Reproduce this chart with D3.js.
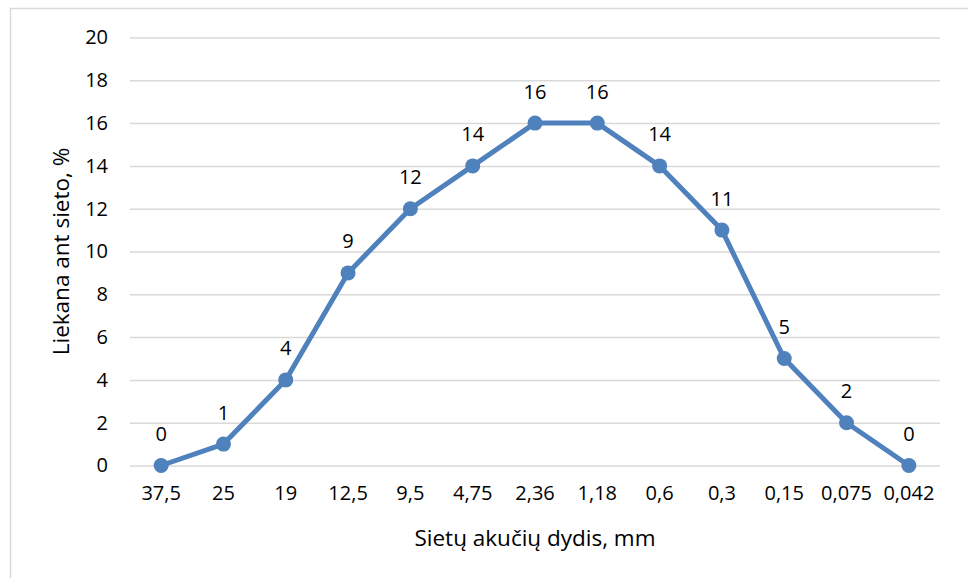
<!DOCTYPE html>
<html lang="lt">
<head>
    <meta charset="utf-8">
    <title>Sietų analizė</title>
    <script src="https://d3js.org/d3.v7.min.js"></script>
    <style>
        body, html {
            margin: 0;
            padding: 0;
            background: #fff;
        }
        svg text {
            font-family: "Open Sans", sans-serif;
            fill: #000;
        }
    </style>
</head>
<body>
<div id="chart"></div>

<script type="text/javascript">
    // Sieto akučių dydžiai (kategorijos) ir liekanos, %
    var sieves = ["37,5", "25", "19", "12,5", "9,5", "4,75", "2,36", "1,18", "0,6", "0,3", "0,15", "0,075", "0,042"];
    var residue = [0, 1, 4, 9, 12, 14, 16, 16, 14, 11, 5, 2, 0];
    var yTicks = [0, 2, 4, 6, 8, 10, 12, 14, 16, 18, 20];

    var xTitle = "Sietų akučių dydis, mm";
    var yTitle = "Liekana ant sieto, %";

    var generateVis = function () {
        var dataset = sieves.map(function (s, i) {
            return {sieve: s, value: residue[i]};
        });

        var w = 968;
        var h = 578;
        var pLeft = 130, pRight = 940, pTop = 37.5, pBottom = 465.5;

        var svg = d3.select("#chart")
            .append("svg")
            .attr("width", w)
            .attr("height", h);

        // chart frame (only left and top edges visible)
        svg.append("rect")
            .attr("x", 10.5)
            .attr("y", 8.5)
            .attr("width", 1000)
            .attr("height", 1000)
            .attr("fill", "none")
            .attr("stroke", "#d9d9d9")
            .attr("stroke-width", 1.5);

        var xScale = d3.scaleBand()
            .domain(sieves)
            .range([pLeft, pRight]);

        var yScale = d3.scaleLinear()
            .domain([0, 20])
            .range([pBottom, pTop]);

        // grid lines + y labels
        var yAxis = d3.axisLeft(yScale)
            .tickValues(yTicks)
            .tickSize(-(pRight - pLeft))
            .tickPadding(22);

        var gy = svg.append("g")
            .attr("transform", "translate(" + pLeft + ",0)")
            .call(yAxis);
        gy.select(".domain").remove();
        gy.selectAll(".tick line")
            .attr("stroke", "#d9d9d9")
            .attr("stroke-width", 1.5);
        gy.selectAll(".tick text")
            .style("font-size", "20px");

        // x labels
        var xAxis = d3.axisBottom(xScale)
            .tickSize(0)
            .tickPadding(20);

        var gx = svg.append("g")
            .attr("transform", "translate(0," + pBottom + ")")
            .call(xAxis);
        gx.select(".domain").remove();
        gx.selectAll(".tick text")
            .style("font-size", "20px");

        var cx = function (d) { return xScale(d.sieve) + xScale.bandwidth() / 2; };

        // line
        var line = d3.line()
            .x(cx)
            .y(function (d) { return yScale(d.value); });

        svg.append("path")
            .datum(dataset)
            .attr("d", line)
            .attr("fill", "none")
            .attr("stroke", "#4f81bd")
            .attr("stroke-width", 5)
            .attr("stroke-linejoin", "round");

        svg.selectAll("circle")
            .data(dataset)
            .enter()
            .append("circle")
            .attr("cx", cx)
            .attr("cy", function (d) { return yScale(d.value); })
            .attr("r", 7.5)
            .attr("fill", "#4f81bd");

        // data labels
        svg.selectAll(".lbl")
            .data(dataset)
            .enter()
            .append("text")
            .attr("class", "lbl")
            .attr("x", cx)
            .attr("y", function (d) { return yScale(d.value) - 32; })
            .attr("text-anchor", "middle")
            .attr("dominant-baseline", "central")
            .style("font-size", "20px")
            .text(function (d) { return d.value; });

        // axis titles
        svg.append("text")
            .attr("x", (pLeft + pRight) / 2)
            .attr("y", 537)
            .attr("text-anchor", "middle")
            .attr("dominant-baseline", "central")
            .style("font-size", "22.5px")
            .text(xTitle);

        svg.append("text")
            .attr("transform", "translate(60," + (pTop + pBottom) / 2 + ") rotate(-90)")
            .attr("text-anchor", "middle")
            .attr("dominant-baseline", "central")
            .style("font-size", "22.5px")
            .text(yTitle);
    };

    generateVis();
</script>
</body>
</html>
